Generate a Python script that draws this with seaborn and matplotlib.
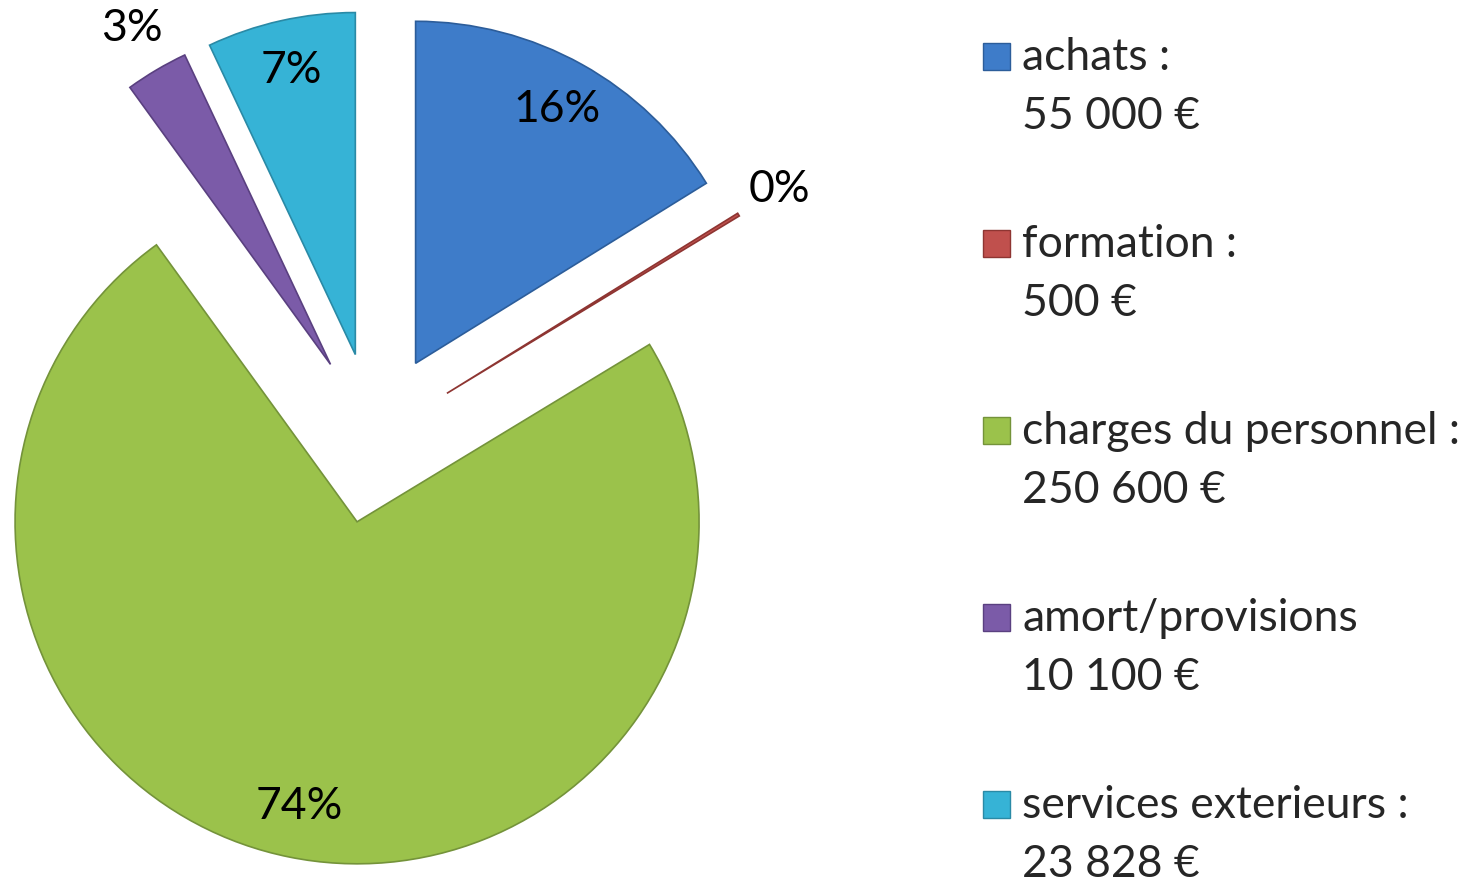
import seaborn as sns
import matplotlib.pyplot as plt
import numpy as np
from matplotlib.patches import Rectangle

# data
categories = ['achats :', 'formation :', 'charges du personnel :', 'amort/provisions', 'services exterieurs :']
amounts = [55000, 500, 250600, 10100, 23828]
amount_labels = ['55 000 €', '500 €', '250 600 €', '10 100 €', '23 828 €']
colors = ['#3E7CC9', '#C0504D', '#9BC24B', '#7B5BA8', '#36B3D6']
edges = ['#2C5D9A', '#8E3532', '#74933A', '#5A4080', '#2A8AA6']

sns.set_theme(style='white')
plt.rcParams['font.family'] = ['Lato', 'DejaVu Sans']

W, H = 1468, 882
fig = plt.figure(figsize=(W / 100, H / 100), dpi=100)
R = 342.0          # pie radius, pixels
cx, cy = 374, 444  # pie center, pixels from bottom-left
ax = fig.add_axes([0, 0, 820 / W, 1])

wedges, texts, autotexts = ax.pie(
    amounts, colors=colors, startangle=90, counterclock=False,
    explode=[0.25] * len(amounts), autopct='%1.0f%%', pctdistance=0.85,
    wedgeprops=dict(linewidth=1.2),
    textprops=dict(fontsize=32, color='black'))
for w, ec in zip(wedges, edges):
    w.set_edgecolor(ec)

# small slices: put the percentage outside
total = sum(amounts)
for w, t, v in zip(wedges, autotexts, amounts):
    if v / total < 0.05:
        mid = np.deg2rad((w.theta1 + w.theta2) / 2)
        x0, y0 = w.center
        t.set_position((x0 + 1.14 * np.cos(mid), y0 + 1.14 * np.sin(mid)))

ax.set_xlim(-cx / R, (820 - cx) / R)
ax.set_ylim(-cy / R, (H - cy) / R)
ax.axis('off')

# legend on the right, marker aligned with the first line
for i, (name, lab, c) in enumerate(zip(categories, amount_labels, colors)):
    base = 70 + 187 * i
    fig.patches.append(Rectangle((983 / W, 1 - base / H), 27 / W, 27 / H,
                                 transform=fig.transFigure, facecolor=c,
                                 edgecolor=edges[i], linewidth=1))
    fig.text(1022 / W, 1 - base / H, name, fontsize=32, va='baseline', ha='left')
    fig.text(1022 / W, 1 - (base + 59) / H, lab, fontsize=32, va='baseline', ha='left')

fig.savefig('out.png', dpi=100)
